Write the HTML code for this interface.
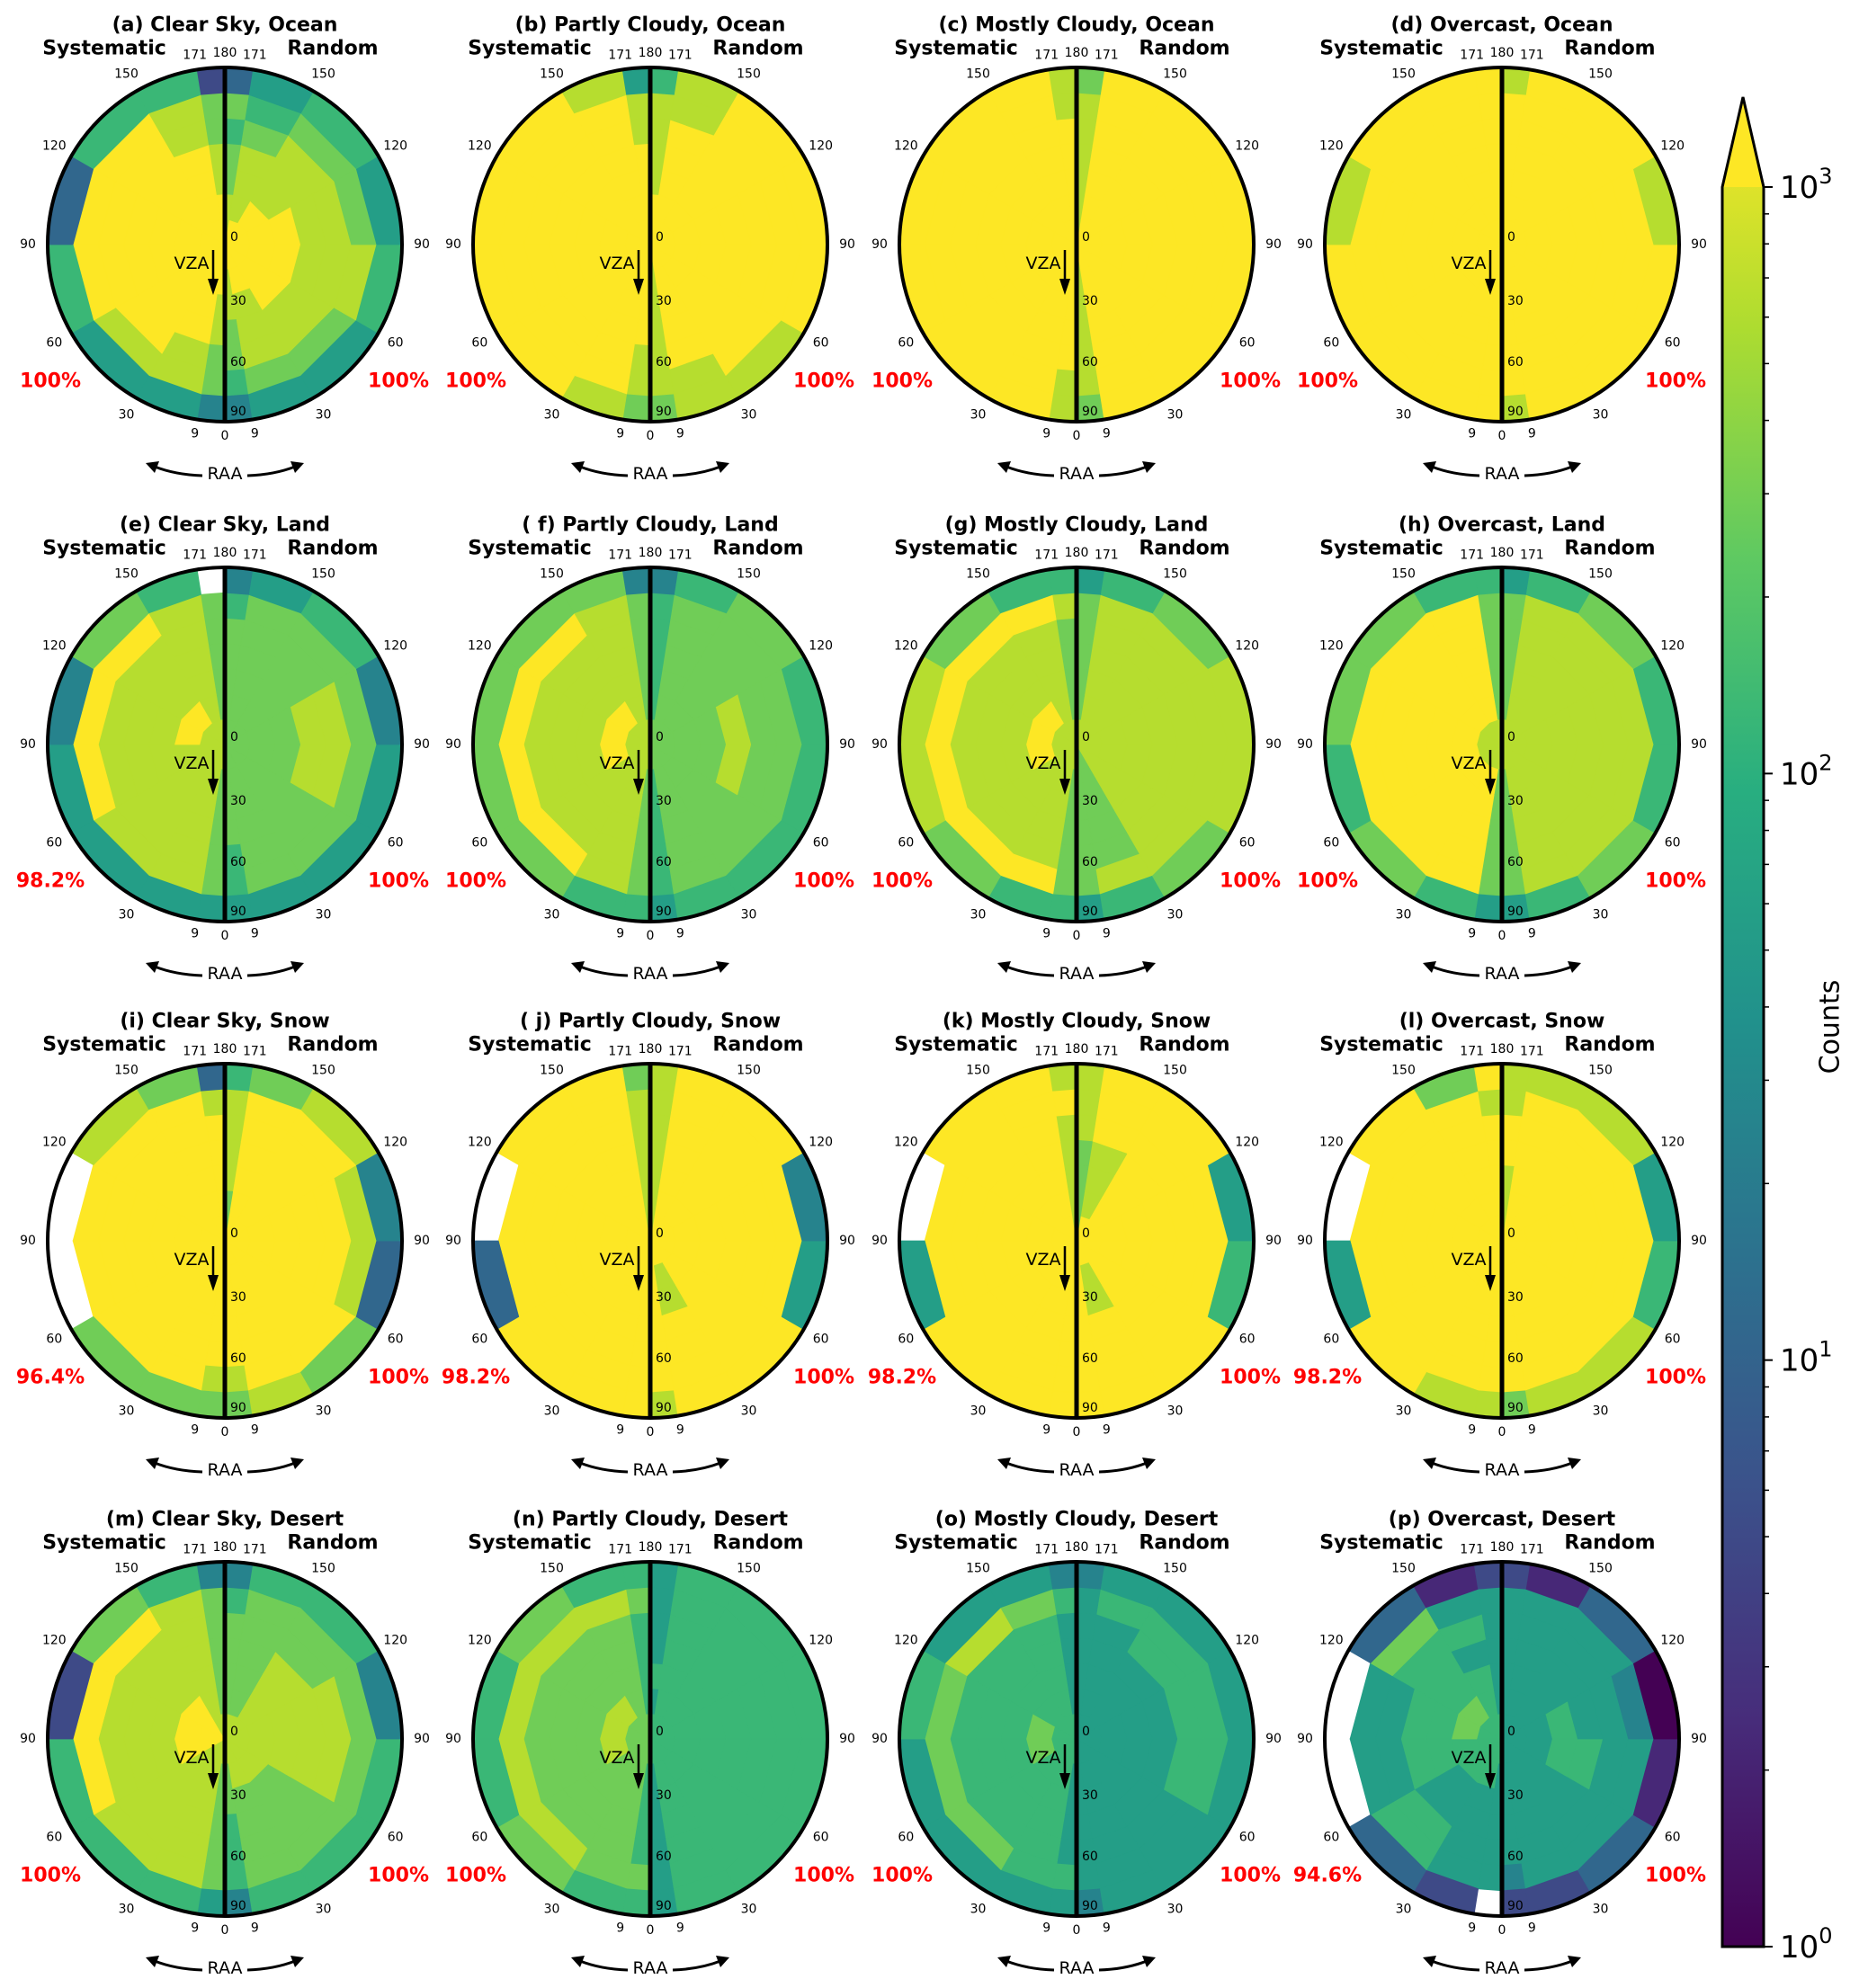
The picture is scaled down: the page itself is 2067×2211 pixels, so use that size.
<!DOCTYPE html>
<html><head><meta charset="utf-8"><style>
html,body{margin:0;padding:0;background:#fff;}
svg{display:block;font-family:"DejaVu Sans","Liberation Sans",sans-serif;}
</style></head><body>
<svg id="fig" width="2067" height="2211" viewBox="0 0 2067 2211" xmlns="http://www.w3.org/2000/svg">
<defs>
<linearGradient id="vir" x1="0" y1="1" x2="0" y2="0">
<stop offset="0" stop-color="#440154"/><stop offset="0.125" stop-color="#472d7b"/><stop offset="0.25" stop-color="#3b528b"/><stop offset="0.375" stop-color="#2c728e"/><stop offset="0.5" stop-color="#21918c"/><stop offset="0.625" stop-color="#28ae80"/><stop offset="0.75" stop-color="#5ec962"/><stop offset="0.875" stop-color="#addc30"/><stop offset="1" stop-color="#fde725"/>
</linearGradient>
</defs>
<g id="panels"></g>
<g id="cbar"></g>
</svg>
<script>
// RAA bin edges (degrees) and number of VZA rings
const raaEdges = [0, 9, 30, 60, 90, 120, 150, 171, 180];
const vzaRings = 7;
const panelTitles = ["(a) Clear Sky, Ocean","(b) Partly Cloudy, Ocean","(c) Mostly Cloudy, Ocean","(d) Overcast, Ocean",
"(e) Clear Sky, Land","( f) Partly Cloudy, Land","(g) Mostly Cloudy, Land","(h) Overcast, Land",
"(i) Clear Sky, Snow","( j) Partly Cloudy, Snow","(k) Mostly Cloudy, Snow","(l) Overcast, Snow",
"(m) Clear Sky, Desert","(n) Partly Cloudy, Desert","(o) Mostly Cloudy, Desert","(p) Overcast, Desert"];
const leftPct = ["100%","100%","100%","100%","98.2%","100%","100%","100%","96.4%","98.2%","98.2%","98.2%","100%","100%","100%","94.6%"];
const rightPct = ["100%","100%","100%","100%","100%","100%","100%","100%","100%","100%","100%","100%","100%","100%","100%","100%"];
// Count levels per cell: digit d -> log10(count) = d/3 ; '-' = no data. Rings inner->outer, sectors RAA 0->180
const systematicCounts = [
"99999999 99999999 89999998 89999998 78999987 78899987 45563662",
"99999999 99999999 99999999 99999999 89999998 89999998 78999985",
"99999999 99999999 99999999 99999999 99999999 89999998 89999998",
"99999999 99999999 99999999 99999999 99999999 99999999 99998999",
"88888888 78889987 78888887 78888887 78888887 78899987 5555476-",
"88888888 78899987 78888887 78888887 78888887 78999987 66777774",
"88888888 78899987 78888887 78888887 78888887 79999998 66788766",
"88888888 79999997 79999997 79999997 79999997 79999997 56767766",
"99999999 99999999 99999999 99999999 99999999 89999998 777--873",
"99999998 99999998 99999998 99999998 99999998 99999998 9993-997",
"99999998 99999998 99999998 99999998 99999998 99999999 9995-998",
"99999999 99999999 99999999 99999999 99999999 99999998 8895-979",
"88899988 78899987 78888887 78888887 78888887 78899987 56662764",
"77777777 67788876 67777776 67777776 67777776 77888887 66766766",
"66666666 56677665 56666665 56666665 56666665 66777876 55556554",
"66666666 56667765 55566665 55566655 55655665 55655755 -23--312"];
const randomCounts = [
"99999998 89999988 88999887 78888887 78888876 67787767 45565653",
"89999999 89999999 89999998 89999998 89999998 88999988 78899986",
"89999998 89999998 89999998 89999998 89999998 89999998 79999997",
"99999999 99999999 99999999 99999999 99999999 99999999 89998998",
"77777777 77777777 77777777 77788777 67788777 67777776 55554654",
"77777777 67777776 67777776 67788776 67777776 67777776 56666764",
"77888888 77888887 77888887 77888887 77888887 78888887 56788765",
"88888888 78888887 78888887 78888887 78888887 78888887 56766765",
"99999997 99999997 99999998 99999998 99999998 89988998 78734876",
"99999998 98999998 98999998 99999998 99999998 99999998 89954998",
"99999997 98999987 98999987 99999987 99999998 99999998 99965998",
"99999998 99999998 99999998 99999999 99999999 99999998 78865888",
"88888888 78888877 77788877 67788877 67788777 67777776 46664664",
"66666666 56666665 56666666 56666665 56666665 56666665 56666665",
"55555555 55555555 55555555 55555555 55566655 55566665 45555554",
"55555555 55555555 55566555 55565555 55555555 45554555 22310312"];
const raaTickLabels = ["0","9","30","60","90","120","150","171","180"];
const vzaTickLabels = ["0","30","60","90"];
const cbarTickLabels = ["10","10","10","10"];
const cbarTickExp = ["0","1","2","3"];

const NS = "http://www.w3.org/2000/svg";
const VIR = ["#440154","#472d7b","#3b528b","#2c728e","#21918c","#28ae80","#5ec962","#addc30","#fde725"];
function hex(c){return [parseInt(c.slice(1,3),16),parseInt(c.slice(3,5),16),parseInt(c.slice(5,7),16)];}
function viridis(t){t=Math.max(0,Math.min(1,t));const p=t*8,i=Math.min(7,Math.floor(p)),f=p-i;
 const a=hex(VIR[i]),b=hex(VIR[i+1]);return "rgb("+a.map((v,k)=>Math.round(v+(b[k]-v)*f)).join(",")+")";}
function el(tag,attrs,parent){const e=document.createElementNS(NS,tag);for(const k in attrs)e.setAttribute(k,attrs[k]);parent.appendChild(e);return e;}
function txt(parent,x,y,s,size,opts){const t=el("text",Object.assign({x:x,y:y,"font-size":size,"text-anchor":"middle","dominant-baseline":"central"},opts||{}),parent);t.textContent=s;return t;}

const colX=[250,723,1197,1670], rowY=[272,828,1380,1934], R=197;
const root=document.getElementById("panels");
function pt(cx,cy,r,deg,side){const a=deg*Math.PI/180;return [cx+side*r*Math.sin(a), cy+r*Math.cos(a)];}
function rScale(i){return R*i/vzaRings;}

for(let p=0;p<16;p++){
 const cx=colX[p%4], cy=rowY[Math.floor(p/4)];
 const g=el("g",{},root);
 
 
 [[systematicCounts[p],-1,"systematic"],[randomCounts[p],1,"random"]].forEach(([str,side,nm])=>{
  const rings=str.split(" ");
  for(let ri=0;ri<vzaRings;ri++){
   for(let s=0;s<8;s++){
    const ch=rings[ri][s]; if(ch==="-")continue;
    const v=parseInt(ch)/3; // log10 counts
    const r0=rScale(ri), r1=rScale(ri+1), a0=raaEdges[s], a1=raaEdges[s+1];
    const p0=pt(cx,cy,r0,a0,side),p1=pt(cx,cy,r1,a0,side),p2=pt(cx,cy,r1,a1,side),p3=pt(cx,cy,r0,a1,side);
    const sw=side<0?1:0;
    const outer=(ri===vzaRings-1)?(" A"+r1+" "+r1+" 0 0 "+sw+" "+p2):(" L"+p2);
    const d="M"+p0+" L"+p1+outer+" L"+p3+" Z";
    const c=el("path",{d:d,fill:viridis(v/3),stroke:viridis(v/3),"stroke-width":0.8},g);
    
    
   }
  }
 });
 const circ=el("circle",{cx:cx,cy:cy,r:R,fill:"none",stroke:"#000","stroke-width":4},g);
 
 
 const ln=el("line",{x1:cx,y1:cy-R,x2:cx,y2:cy+R,stroke:"#000","stroke-width":5},g);
 
 
 const t=txt(g,cx,cy-244,panelTitles[p],22,{"font-weight":"bold"});
 
 
 const t1=txt(g,cx-134,cy-218,"Systematic",22,{"font-weight":"bold"});
 
 
 const t2=txt(g,cx+120,cy-218,"Random",22,{"font-weight":"bold"});
 
 
 raaTickLabels.forEach((lab,i)=>{
  const deg=raaEdges[i]; const rr=(deg===9||deg===171||deg===0||deg===180)?R+16:R+22;
  [-1,1].forEach(side=>{
   if((deg===0||deg===180)&&side===1)return;
   const q=pt(cx,cy,rr,deg,side);
   const tl=txt(g,q[0],q[1],lab,14);
   
   
  });
 });
 vzaTickLabels.forEach((lab,i)=>{
  const y=[cy-8,cy+63,cy+131,cy+186][i];
  const tv=txt(g,cx+6,y,lab,14,{"text-anchor":"start"});
  
  
 });
 const vz=txt(g,cx-37,cy+21,"VZA",19);
 
 
 const ar=el("path",{d:"M"+(cx-13)+" "+(cy+6)+" L"+(cx-13)+" "+(cy+42),stroke:"#000","stroke-width":2.5,fill:"none"},g);
 
 
 const ah=el("polygon",{points:(cx-19)+","+(cy+38)+" "+(cx-7)+","+(cy+38)+" "+(cx-13)+","+(cy+56)},g);
 
 
 const pl=txt(g,cx-194,cy+152,leftPct[p],22,{"font-weight":"bold",fill:"#ff0000"});
 
 
 const pr=txt(g,cx+193,cy+152,rightPct[p],22,{"font-weight":"bold",fill:"#ff0000"});
 
 
 const ra=txt(g,cx,cy+255,"RAA",19);
 
 
 [-1,1].forEach(side=>{
  const a=el("path",{d:"M"+(cx+side*25)+" "+(cy+257)+" Q"+(cx+side*55)+" "+(cy+256)+" "+(cx+side*78)+" "+(cy+247),stroke:"#000","stroke-width":3,fill:"none"},g);
  
  
  const hx=cx+side*88, hy=cy+243;
  const h=el("polygon",{points:hx+","+hy+" "+(cx+side*73)+","+(cy+241)+" "+(cx+side*78)+","+(cy+254)},g);
  
  
 });
}

// colorbar
const cb=document.getElementById("cbar");
const cbX=1915,cbW=46,cbTop=208,cbBot=2165,cbTip=108;
function cbY(logv){return cbBot-(cbBot-cbTop)*logv/3;}
const bar=el("path",{d:"M"+cbX+" "+cbBot+" L"+cbX+" "+cbTop+" L"+(cbX+cbW/2)+" "+cbTip+" L"+(cbX+cbW)+" "+cbTop+" L"+(cbX+cbW)+" "+cbBot+" Z",fill:"url(#vir)",stroke:"none"},cb);


const tipf=el("path",{d:"M"+cbX+" "+cbTop+" L"+(cbX+cbW/2)+" "+cbTip+" L"+(cbX+cbW)+" "+cbTop+" Z",fill:"#fde725"},cb);


const fr=el("path",{d:"M"+cbX+" "+cbBot+" L"+cbX+" "+cbTop+" L"+(cbX+cbW/2)+" "+cbTip+" L"+(cbX+cbW)+" "+cbTop+" L"+(cbX+cbW)+" "+cbBot+" Z",fill:"none",stroke:"#000","stroke-width":3},cb);


for(let dec=0;dec<3;dec++){for(let m=2;m<=9;m++){const y=cbY(dec+Math.log10(m));
 const tk=el("line",{x1:cbX+cbW,x2:cbX+cbW+6,y1:y,y2:y,stroke:"#000","stroke-width":1.5},cb);
 
 }}
cbarTickLabels.forEach((lab,i)=>{
 const y=cbY(i);
 const tk=el("line",{x1:cbX+cbW,x2:cbX+cbW+10,y1:y,y2:y,stroke:"#000","stroke-width":2},cb);
 
 
 const t=el("text",{x:cbX+cbW+18,y:y+12,"font-size":34},cb);
 t.textContent=lab;
 const sup=el("tspan",{dy:-16,"font-size":24},t);
 sup.textContent=cbarTickExp[i];
 
 
});
const ct=txt(cb,2035,1142,"Counts",30,{transform:"rotate(-90 2035 1142)"});


</script>
</body></html>
